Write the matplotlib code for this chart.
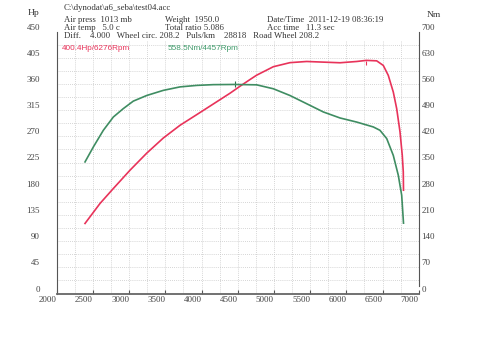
import numpy as np
import matplotlib
matplotlib.use('Agg')
import matplotlib.pyplot as plt

# power curve (Hp)
rpm_hp = [2391, 2598, 2782, 3012, 3243, 3472, 3703, 3934, 4163, 4394, 4532, 4670,
          4762, 4992, 5222, 5453, 5683, 5913, 6144, 6276, 6420, 6511, 6580, 6649, 6696,
          6742, 6773, 6787, 6790]
hp = [120.3, 154.6, 180.3, 211.7, 241, 267, 288.9, 307.2, 325.5, 344, 356, 367.5,
      375, 389.5, 396.5, 398.5, 397.4, 396.3, 398.5, 400.4, 399.6, 391.7, 374.6, 346, 317.5,
      277.4, 237.4, 208.8, 177.4]

# torque curve (Nm)
rpm_nm = [2391, 2506, 2644, 2782, 2920, 3058, 3243, 3472, 3703, 3934, 4163, 4457, 4762,
          4992, 5222, 5453, 5683, 5913, 6144, 6373, 6465, 6558, 6649, 6718, 6765, 6790]
nm = [351.5, 391.5, 436, 471.5, 494, 514, 529, 542.7, 552, 556, 558, 558.5, 557.5,
      547, 529, 507, 485, 469, 458, 445, 436, 414, 369, 316, 262.7, 188]

hp_peak = (6276, 400.4)
nm_peak = (4457, 558.5)

x_ticks = list(range(2000, 7001, 500))
hp_ticks = list(range(0, 451, 45))
nm_ticks = list(range(0, 701, 70))

red = '#e8335a'
green = '#3f8d62'
W, H = 500, 353

def fx(px):
    return px / W

def fy(py):
    return 1 - py / H

fig = plt.figure(figsize=(5, 3.53), dpi=100)
ax = fig.add_axes([fx(56.7), fy(293.5), fx(418.7 - 56.7), (293.5 - 31.5) / H])
ax2 = ax.twinx()

ax.set_xlim(2000, 7000)
ax.set_ylim(0, 450)
ax2.set_ylim(0, 700)

# dotted grid
grid_x = np.arange(2250, 7000, 250)
grid_y = np.arange(22.5, 430, 22.5)
ax.vlines(grid_x, 0, 436, colors='#c8c8c8', linestyles=(0, (1, 1.5)), linewidth=0.6, zorder=0)
ax.hlines(grid_y, 2000, 7000, colors='#c8c8c8', linestyles=(0, (1, 1.5)), linewidth=0.6, zorder=0)

ax.plot(rpm_hp, hp, color=red, linewidth=1.2, zorder=3)
ax2.plot(rpm_nm, nm, color=green, linewidth=1.2, zorder=3)
ax.plot([hp_peak[0]], [hp_peak[1] - 4], marker='|', color=red, markersize=3, markeredgewidth=0.8)
ax2.plot([nm_peak[0]], [nm_peak[1]], marker='|', color='#2f6f4a', markersize=4, markeredgewidth=0.8)

serif = ['Liberation Serif', 'DejaVu Serif']
ax.set_xticks(x_ticks)
ax.set_yticks(hp_ticks)
ax2.set_yticks(nm_ticks)
ax.tick_params(axis='x', direction='in', length=3, width=0.8, color='#555555', pad=2,
               labelsize=6.5, labelcolor='#444444')
ax.tick_params(axis='y', length=0, pad=12, labelsize=6.5, labelcolor='#444444')
ax2.tick_params(axis='y', length=0, pad=2, labelsize=6.5, labelcolor='#444444')
for lab in ax.get_xticklabels():
    lab.set_ha('right')
    lab.set_family(serif)
for lab in ax.get_yticklabels() + ax2.get_yticklabels():
    lab.set_va('bottom')
    lab.set_family(serif)

for a in (ax, ax2):
    a.spines['top'].set_visible(False)
ax2.spines['left'].set_visible(False)
ax2.spines['bottom'].set_visible(False)
ax.spines['right'].set_visible(False)
ax.spines['left'].set_color('#555555')
ax.spines['bottom'].set_color('#666666')
ax.spines['bottom'].set_linewidth(1.3)
ax2.spines['right'].set_color('#555555')
ax2.spines['right'].set_bounds(20, 700)

# header
tc = '#333333'
fs = 6.3
fig.text(fx(64), fy(8), 'C:\\dynodat\\a6_seba\\test04.acc', fontsize=fs, family=serif, color=tc, va='center')
fig.text(fx(28), fy(13), 'Hp', fontsize=6.8, family=serif, color=tc, va='center')
fig.text(fx(427), fy(15), 'Nm', fontsize=6.8, family=serif, color=tc, va='center')
fig.text(fx(64), fy(20), 'Air press  1013 mb', fontsize=fs, family=serif, color=tc, va='center')
fig.text(fx(165), fy(20), 'Weight  1950.0', fontsize=fs, family=serif, color=tc, va='center')
fig.text(fx(267), fy(20), 'Date/Time  2011-12-19 08:36:19', fontsize=fs, family=serif, color=tc, va='center')
fig.text(fx(64), fy(28), 'Air temp   5.0 c', fontsize=fs, family=serif, color=tc, va='center')
fig.text(fx(165), fy(28), 'Total ratio 5.086', fontsize=fs, family=serif, color=tc, va='center')
fig.text(fx(267), fy(28), 'Acc time   11.3 sec', fontsize=fs, family=serif, color=tc, va='center')
fig.text(fx(64), fy(35.5), 'Diff.    4.000   Wheel circ. 208.2   Puls/km    28818   Road Wheel 208.2',
         fontsize=fs, family=serif, color=tc, va='center')

sans = ['Liberation Sans', 'DejaVu Sans']
fig.text(fx(62), fy(49), '%.1fHp/%dRpm' % (hp_peak[1], hp_peak[0]), fontsize=5.9, family=sans,
         color=red, va='center')
fig.text(fx(168), fy(49), '%.1fNm/%dRpm' % (nm_peak[1], nm_peak[0]), fontsize=5.9, family=sans,
         color='#3f9a6a', va='center')

fig.savefig('out.png', dpi=100)
